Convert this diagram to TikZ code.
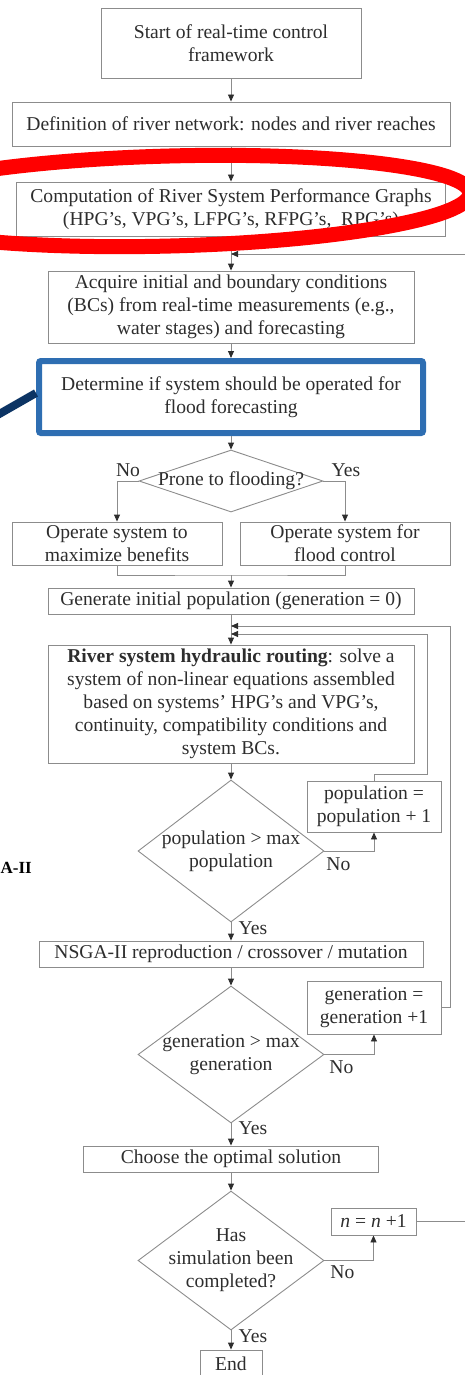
\documentclass[tikz,border=0pt]{standalone}
\usepackage{fontspec}
\setmainfont{Liberation Serif}
\definecolor{boxgray}{RGB}{140,140,140}
\definecolor{inkgray}{RGB}{45,45,45}
\definecolor{markred}{RGB}{255,0,0}
\definecolor{markblue}{RGB}{46,110,178}
\definecolor{marknavy}{RGB}{12,52,100}
\usetikzlibrary{shapes.geometric, arrows.meta, positioning, calc}

\begin{document}
\begin{tikzpicture}[x=1pt, y=-1pt,
  font=\fontsize{19.6}{23}\selectfont, text=inkgray,
  stepbox/.style={draw=boxgray, line width=0.9pt, align=center, inner xsep=1pt, inner ysep=0pt},
  decision/.style={draw=boxgray, line width=0.9pt, diamond, inner sep=0pt},
  conn/.style={draw=boxgray, line width=0.9pt},
  arr/.style={conn, -{Triangle[length=7pt, width=6pt, color=inkgray]}},
  tag/.style={inner sep=1pt, align=center}
]
  \useasboundingbox (0,0) rectangle (465,1375);

  % main chain
  \node[stepbox, minimum width=260, minimum height=70] (start) at (231,43) {Start of real-time control\\framework};
  \node[stepbox, minimum width=438, minimum height=44] (network) at (231,124) {Definition of river network: nodes and river reaches};
  \node[stepbox, minimum width=429, minimum height=54] (graphs) at (231,209) {Computation of River System Performance Graphs\\(HPG's, VPG's, LFPG's, RFPG's,~ RPG's)};
  \node[stepbox, minimum width=366, minimum height=72] (acquire) at (231,307) {Acquire initial and boundary conditions\\(BCs) from real-time measurements (e.g.,\\water stages) and forecasting};
  \node[stepbox, draw=markblue, line width=6pt, rounded corners=2pt, minimum width=384, minimum height=72] (determine) at (231,397) {Determine if system should be operated for\\flood forecasting};

  % flooding decision
  \node[decision, minimum width=184, minimum height=62] (prone) at (231,481) {};
  \node[tag] (pronetxt) at (prone) {Prone to flooding?};
  \node[tag] (pronono) at (128,470) {No};
  \node[tag] (proneyes) at (346,470) {Yes};
  \node[stepbox, minimum width=210, minimum height=43] (benefit) at (117,543.5) {Operate system to\\maximize benefits};
  \node[stepbox, minimum width=210, minimum height=43] (floodctl) at (345,543.5) {Operate system for\\flood control};

  % optimisation loop
  \node[stepbox, minimum width=366, minimum height=26] (initpop) at (231,601) {Generate initial population (generation = 0)};
  \node[stepbox, minimum width=366, minimum height=118] (routing) at (231,704) {\textbf{River system hydraulic routing}: solve a\\system of non-linear equations assembled\\based on systems' HPG's and VPG's,\\continuity, compatibility conditions and\\system BCs.};
  \node[decision, minimum width=186, minimum height=142] (popcheck) at (231,851) {};
  \node[tag] (poptxt) at (popcheck) {population > max\\population};
  \node[stepbox, minimum width=134, minimum height=51] (popinc) at (374,806.5) {population =\\population + 1};
  \node[stepbox, minimum width=384, minimum height=26] (nsga) at (231,954) {NSGA-II reproduction / crossover / mutation};
  \node[decision, minimum width=186, minimum height=137] (gencheck) at (231,1054.5) {};
  \node[tag] (gentxt) at (gencheck) {generation > max\\generation};
  \node[stepbox, minimum width=134, minimum height=53] (geninc) at (374,1007.5) {generation =\\generation +1};
  \node[stepbox, minimum width=295, minimum height=26] (choose) at (231,1159) {Choose the optimal solution};
  \node[decision, minimum width=186, minimum height=139] (simcheck) at (231,1260.5) {};
  \node[tag] (simtxt) at (simcheck) {Has\\simulation been\\completed?};
  \node[stepbox, minimum width=85, minimum height=27] (ninc) at (373.5,1221.5) {{\itshape n} = {\itshape n} +1};
  \node[stepbox, minimum width=62, minimum height=28] (finish) at (231,1364) {End};

  % yes / no tags
  \node[tag] (popno) at ($(popcheck.east)+(14,13)$) {No};
  \node[tag] (popyes) at ($(popcheck.south)+(22,6)$) {Yes};
  \node[tag] (genno) at ($(gencheck.east)+(17,13)$) {No};
  \node[tag] (genyes) at ($(gencheck.south)+(22,5)$) {Yes};
  \node[tag] (simno) at ($(simcheck.east)+(18,12)$) {No};
  \node[tag] (simyes) at ($(simcheck.south)+(22,6)$) {Yes};
  \node[font=\fontsize{17}{20}\selectfont\bfseries, text=black, inner sep=0pt, anchor=west] (nsgatag) at (0.5,868) {A-II};

  % connectors
  \draw[arr] (start) -- (network);
  \draw[arr] (network) -- (graphs);
  \draw[arr] (graphs) -- (acquire);
  \draw[arr] (acquire) -- (determine);
  \draw[arr] (determine) -- (prone);
  \draw[arr] (prone.west) -| (benefit.north);
  \draw[arr] (prone.east) -| (floodctl.north);
  \coordinate (merge) at (231,575);
  \draw[conn] (benefit.south) |- (merge) -| (floodctl.south);
  \draw[arr] (merge) -- (initpop);
  \draw[arr] (initpop) -- (routing);
  \draw[arr] (routing) -- (popcheck);
  \draw[arr] (popcheck.east) -| (popinc.south);
  \draw[arr] (popcheck.south) -- (nsga.north);
  \draw[arr] (nsga) -- (gencheck);
  \draw[arr] (gencheck.east) -| (geninc.south);
  \draw[arr] (gencheck.south) -- (choose.north);
  \draw[arr] (choose) -- (simcheck);
  \draw[arr] (simcheck.east) -| (ninc.south);
  \draw[arr] (simcheck.south) -- (finish.north);

  % loops back
  \coordinate (poploop) at (427,634);
  \coordinate (genloop) at (450,626);
  \draw[arr] (popinc.north) -- ++(0,-6) -| (poploop) -- (poploop -| routing.north);
  \draw[arr] (geninc.east) -| (genloop) -- (genloop -| routing.north);
  \coordinate (restart) at (466,254);
  \draw[arr] (restart) -- (restart -| acquire.north);
  \coordinate (nexit) at (466,1221.5);
  \draw[conn] (ninc.east) -- (nexit);

  % highlight marks
  \coordinate (pointer) at (-6,417);
  \draw[marknavy, line width=8pt] (pointer) -- ([yshift=4pt]determine.west);
  \draw[markred, line width=15pt, rotate around={1.5:(170,201)}] (170,201) ellipse [x radius=300, y radius=45];
\end{tikzpicture}
\end{document}
